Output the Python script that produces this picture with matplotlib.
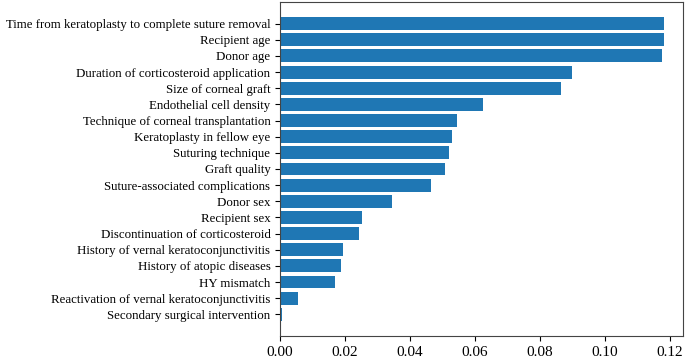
import matplotlib.pyplot as plt

plt.rcParams['font.family'] = ['Liberation Serif', 'DejaVu Serif']

# Features, listed top to bottom as in the chart
features = [
    'Time from keratoplasty to complete suture removal',
    'Recipient age',
    'Donor age',
    'Duration of corticosteroid application',
    'Size of corneal graft',
    'Endothelial cell density',
    'Technique of corneal transplantation',
    'Keratoplasty in fellow eye',
    'Suturing technique',
    'Graft quality',
    'Suture-associated complications',
    'Donor sex',
    'Recipient sex',
    'Discontinuation of corticosteroid',
    'History of vernal keratoconjunctivitis',
    'History of atopic diseases',
    'HY mismatch',
    'Reactivation of vernal keratoconjunctivitis',
    'Secondary surgical intervention',
]
importance = [
    0.1181, 0.1181, 0.1177, 0.0898, 0.0864, 0.0624, 0.0544, 0.0529,
    0.0521, 0.0508, 0.0464, 0.0346, 0.0251, 0.0243, 0.0194, 0.0186,
    0.0169, 0.0055, 0.0007,
]

fig = plt.figure(figsize=(6.85, 3.58), dpi=100)
ax = fig.add_axes([0.409, 0.0615, 0.5877, 0.933])

ax.barh(features[::-1], importance[::-1], color='#1f77b4')
ax.tick_params(axis='y', labelsize=9.3)
ax.tick_params(axis='x', labelsize=11)
for s in ax.spines.values():
    s.set_edgecolor('#444444')

fig.savefig('out.png', dpi=100)
